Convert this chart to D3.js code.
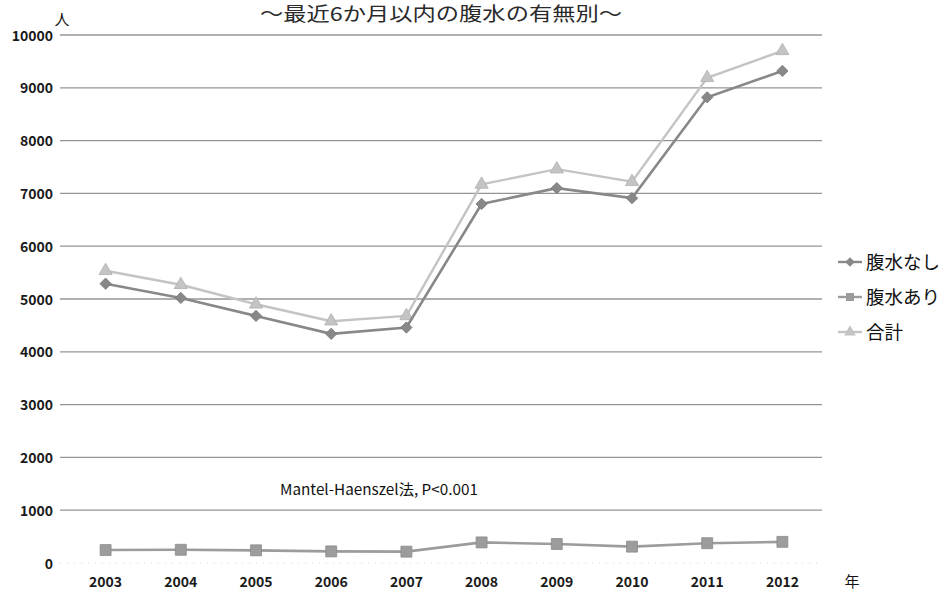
<!DOCTYPE html>
<html>
<head>
<meta charset="utf-8">
<script src="https://cdn.jsdelivr.net/npm/d3@7/dist/d3.min.js"></script>
<style>
  html, body { margin: 0; padding: 0; background: #fff; }
  svg { display: block; }
  text { font-family: "Noto Sans CJK JP", "Noto Sans", sans-serif; }
</style>
</head>
<body>
<svg id="chart" width="946" height="596"></svg>
<script>
// Yearly counts, split by presence of ascites within the last 6 months
const years = ["2003", "2004", "2005", "2006", "2007", "2008", "2009", "2010", "2011", "2012"];
const noAscites = [5290, 5020, 4680, 4340, 4460, 6800, 7100, 6910, 8820, 9320];
const withAscites = [245, 250, 240, 220, 215, 390, 360, 310, 375, 400];
const totals = [5535, 5270, 4900, 4580, 4680, 7170, 7460, 7220, 9190, 9700];
const yTicks = [0, 1000, 2000, 3000, 4000, 5000, 6000, 7000, 8000, 9000, 10000];
const seriesNames = ["腹水なし", "腹水あり", "合計"];

const svg = d3.select("#chart");

const x = d3.scaleBand().domain(years).range([68, 820]);
const y = d3.scaleLinear().domain([0, 10000]).range([563, 35]);
const cx = d => x(d) + x.bandwidth() / 2;

// diamond marker: a square turned by 45 degrees
const diamondPath = s => d3.symbol().type(d3.symbolSquare).size(s)();

// horizontal gridlines
svg.append("g").selectAll("line")
  .data(yTicks.filter(t => t > 0))
  .join("line")
  .attr("x1", 60).attr("x2", 822)
  .attr("y1", d => y(d)).attr("y2", d => y(d))
  .attr("stroke", "#959595").attr("stroke-width", 1.3);

// faint baseline
svg.append("line")
  .attr("x1", 60).attr("x2", 822)
  .attr("y1", y(0)).attr("y2", y(0))
  .attr("stroke", "#d6d6d6").attr("stroke-width", 1)
  .attr("stroke-dasharray", "1,6");

// y axis labels
const yAxis = d3.axisLeft(y).tickValues(yTicks).tickSize(0).tickPadding(0).tickFormat(d3.format("d"));
const yg = svg.append("g").attr("transform", "translate(53,0)").call(yAxis);
yg.select(".domain").remove();
yg.selectAll("text")
  .attr("font-size", 14).attr("font-weight", 700).attr("fill", "#1a1a1a")
  .attr("dy", "0.36em");

// x axis labels
const xAxis = d3.axisBottom(x).tickSize(0).tickPadding(0);
const xg = svg.append("g").attr("transform", "translate(0,577)").call(xAxis);
xg.select(".domain").remove();
xg.selectAll("text")
  .attr("font-size", 14).attr("font-weight", 700).attr("fill", "#1a1a1a")
  .attr("dy", "0.71em");

// unit labels
svg.append("text").attr("x", 62).attr("y", 25).attr("text-anchor", "middle")
  .attr("font-size", 15).attr("fill", "#111").text("人");
svg.append("text").attr("x", 852).attr("y", 587).attr("text-anchor", "middle")
  .attr("font-size", 15).attr("fill", "#111").text("年");

// title
svg.append("text").attr("x", 441).attr("y", 21).attr("text-anchor", "middle")
  .attr("font-size", 19).attr("fill", "#2a2a2a")
  .attr("textLength", 362).attr("lengthAdjust", "spacingAndGlyphs")
  .text("～最近6か月以内の腹水の有無別～");

// statistical note
svg.append("text").attr("x", 280).attr("y", 495)
  .attr("font-size", 15).attr("fill", "#111")
  .attr("textLength", 198).attr("lengthAdjust", "spacingAndGlyphs")
  .text("Mantel-Haenszel法, P<0.001");

const series = [
  { name: seriesNames[2], values: totals, color: "#c4c4c4", mark: "tri", size: 75, width: 2.4 },
  { name: seriesNames[0], values: noAscites, color: "#888888", mark: "dia", size: 64, width: 2.6 },
  { name: seriesNames[1], values: withAscites, color: "#9c9c9c", mark: "sq", size: 120, width: 2.6 }
];

const markPath = (m, s) => m === "tri" ? d3.symbol().type(d3.symbolTriangle).size(s)()
  : diamondPath(s);
const markRot = m => m === "dia" ? " rotate(45)" : "";

const line = d3.line().x(d => cx(d.year)).y(d => y(d.v));

series.forEach(s => {
  const pts = years.map((yr, i) => ({ year: yr, v: s.values[i] }));
  const g = svg.append("g");
  g.append("path").datum(pts)
    .attr("d", line).attr("fill", "none")
    .attr("stroke", s.color).attr("stroke-width", s.width);
  g.selectAll("path.pt").data(pts).join("path")
    .attr("class", "pt")
    .attr("d", markPath(s.mark, s.size))
    .attr("transform", d => `translate(${cx(d.year)},${y(d.v)})${markRot(s.mark)}`)
    .attr("fill", s.color).attr("stroke", d3.color(s.color).darker(0.3)).attr("stroke-width", 0.8);
});

// legend
const legendOrder = [
  { name: seriesNames[0], color: "#888888", mark: "dia", size: 45 },
  { name: seriesNames[1], color: "#9c9c9c", mark: "sq", size: 64 },
  { name: seriesNames[2], color: "#c4c4c4", mark: "tri", size: 60 }
];
const lg = svg.append("g").selectAll("g").data(legendOrder).join("g")
  .attr("transform", (d, i) => `translate(838,${262 + i * 35})`);
lg.append("line").attr("x1", 0).attr("x2", 24).attr("y1", 0).attr("y2", 0)
  .attr("stroke", d => d.color).attr("stroke-width", 2.4);
lg.append("path").attr("d", d => markPath(d.mark, d.size))
  .attr("transform", d => `translate(12,0)${markRot(d.mark)}`)
  .attr("fill", d => d.color);
lg.append("text").attr("x", 28).attr("y", 0).attr("dy", "0.36em")
  .attr("font-size", 18.5).attr("fill", "#111").text(d => d.name);
</script>
</body>
</html>
